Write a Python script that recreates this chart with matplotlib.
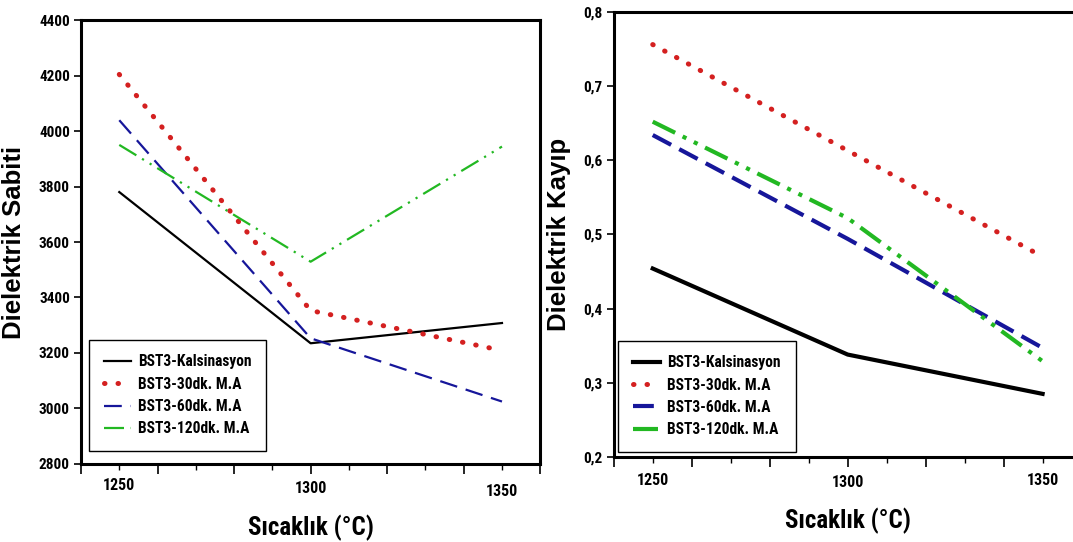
import matplotlib.pyplot as plt
from matplotlib import font_manager as fm
from matplotlib.ticker import FixedLocator, FuncFormatter
import matplotlib.transforms as mtransforms

# Data
sicaklik = [1250, 1300, 1350]
seri_adlari = ['BST3-Kalsinasyon', 'BST3-30dk. M.A', 'BST3-60dk. M.A', 'BST3-120dk. M.A']

sabit_kalsinasyon = [3780, 3235, 3308]
sabit_30dk = [4204, 3353, 3209]
sabit_60dk = [4039, 3253, 3025]
sabit_120dk = [3950, 3529, 3944]

kayip_kalsinasyon = [0.454, 0.338, 0.285]
kayip_30dk = [0.756, 0.613, 0.470]
kayip_60dk = [0.634, 0.494, 0.347]
kayip_120dk = [0.652, 0.522, 0.329]

renkler = ['black', '#d42020', '#16169a', '#22b822']


def dar_font():
    # look for an installed bold condensed face (Arial Narrow look)
    oncelik = ['Liberation Sans Narrow', 'Roboto Condensed', 'Noto Sans', 'Open Sans', 'DejaVu Sans']
    bulunan = {}
    for f in fm.fontManager.ttflist:
        dar = ('Narrow' in f.name or 'Condensed' in f.name or 'ondensed' in f.fname
               or f.stretch in ('condensed', 'semi-condensed', 'extra-condensed'))
        kalin = f.weight in ('bold', 700, 'demibold') or 'Bold' in f.fname
        if dar and kalin and 'Oblique' not in f.fname and 'Italic' not in f.fname:
            bulunan.setdefault(f.name, f.fname)
    for ad in oncelik:
        if ad in bulunan:
            return fm.FontProperties(fname=bulunan[ad]), True
    if bulunan:
        return fm.FontProperties(fname=list(bulunan.values())[0]), True
    return fm.FontProperties(family='Liberation Sans', weight='bold'), False


dar, dar_var = dar_font()
normal = fm.FontProperties(family=['Liberation Sans', 'DejaVu Sans'], weight='bold')


def fp(kaynak, boyut):
    p = kaynak.copy()
    p.set_size(boyut)
    return p


olcek = 1.0 if dar_var else 0.85

fig = plt.figure(figsize=(10.73, 5.42), dpi=100)
ax1 = fig.add_axes([0.0755, 0.144, 0.428, 0.819])
ax2 = fig.add_axes([0.572, 0.157, 0.436, 0.821])


def ciz(ax, seriler, lw):
    ince = lw < 2
    stiller = [
        dict(linestyle='-', lw=lw),
        dict(linestyle=(0, (0.1, 2.6)), lw=3.6, dash_capstyle='round'),
        dict(linestyle=(0, (8, 4)) if ince else (0, (5, 2.2)), lw=lw),
        dict(linestyle=(0, (9, 3, 1, 3, 1, 3)) if ince else (0, (6, 2, 1, 2, 1, 2)), lw=lw),
    ]
    for vals, ad, renk, st in zip(seriler, seri_adlari, renkler, stiller):
        ax.plot(sicaklik, vals, color=renk, label=ad, **st)


ciz(ax1, [sabit_kalsinasyon, sabit_30dk, sabit_60dk, sabit_120dk], 1.6)
ciz(ax2, [kayip_kalsinasyon, kayip_30dk, kayip_60dk, kayip_120dk], 3.0)

ax1.set_ylim(2800, 4400)
ax1.set_yticks(range(2800, 4401, 200))
ax2.set_ylim(0.2, 0.8)
ax2.set_yticks([0.2, 0.3, 0.4, 0.5, 0.6, 0.7, 0.8])
ax2.yaxis.set_major_formatter(FuncFormatter(lambda v, p: f'{v:.1f}'.replace('.', ',')))

etiket_ofset = {ax1: [-0.048, -0.056, -0.063], ax2: [-0.054, -0.058, -0.052]}

fig.canvas.draw()
for ax in (ax1, ax2):
    ax.set_xlim(1240, 1360)
    ax.xaxis.set_major_locator(FixedLocator(range(1240, 1361, 20)))
    ax.xaxis.set_minor_locator(FixedLocator(range(1250, 1351, 20)))
    ax.tick_params(axis='x', which='major', length=7, width=1.2, labelbottom=False)
    ax.tick_params(axis='x', which='minor', length=4, width=1.0)
    ax.tick_params(axis='y', length=5, width=1.2, pad=3)
    for lbl in ax.get_yticklabels():
        lbl.set_fontproperties(fp(dar, 11 * olcek))
    for sp in ax.spines.values():
        sp.set_linewidth(2.2)
    trans = mtransforms.blended_transform_factory(ax.transData, ax.transAxes)
    for x, dy in zip(sicaklik, etiket_ofset[ax]):
        ax.text(x, dy, str(x), transform=trans, ha='center', va='center',
                fontproperties=fp(dar, 11.5 * olcek))
    ax.set_xlabel('Sıcaklık (°C)', fontproperties=fp(dar, 18 * olcek), labelpad=29)

ax1.set_ylabel('Dielektrik Sabiti', fontproperties=fp(normal, 18.5), labelpad=9)
ax2.set_ylabel('Dielektrik Kayıp', fontproperties=fp(normal, 18.5), labelpad=9)

for ax, anchor in ((ax1, (0.017, 0.029)), (ax2, (0.01, 0.011))):
    leg = ax.legend(loc='lower left', bbox_to_anchor=anchor, borderaxespad=0,
                    fancybox=False, shadow=False, framealpha=1, edgecolor='black',
                    prop=fp(dar, 11.2 * olcek), handlelength=1.75,
                    borderpad=0.95, labelspacing=0.47, handletextpad=0.45)
    leg.get_frame().set_linewidth(1.0)

fig.savefig('out.png', dpi=100)
